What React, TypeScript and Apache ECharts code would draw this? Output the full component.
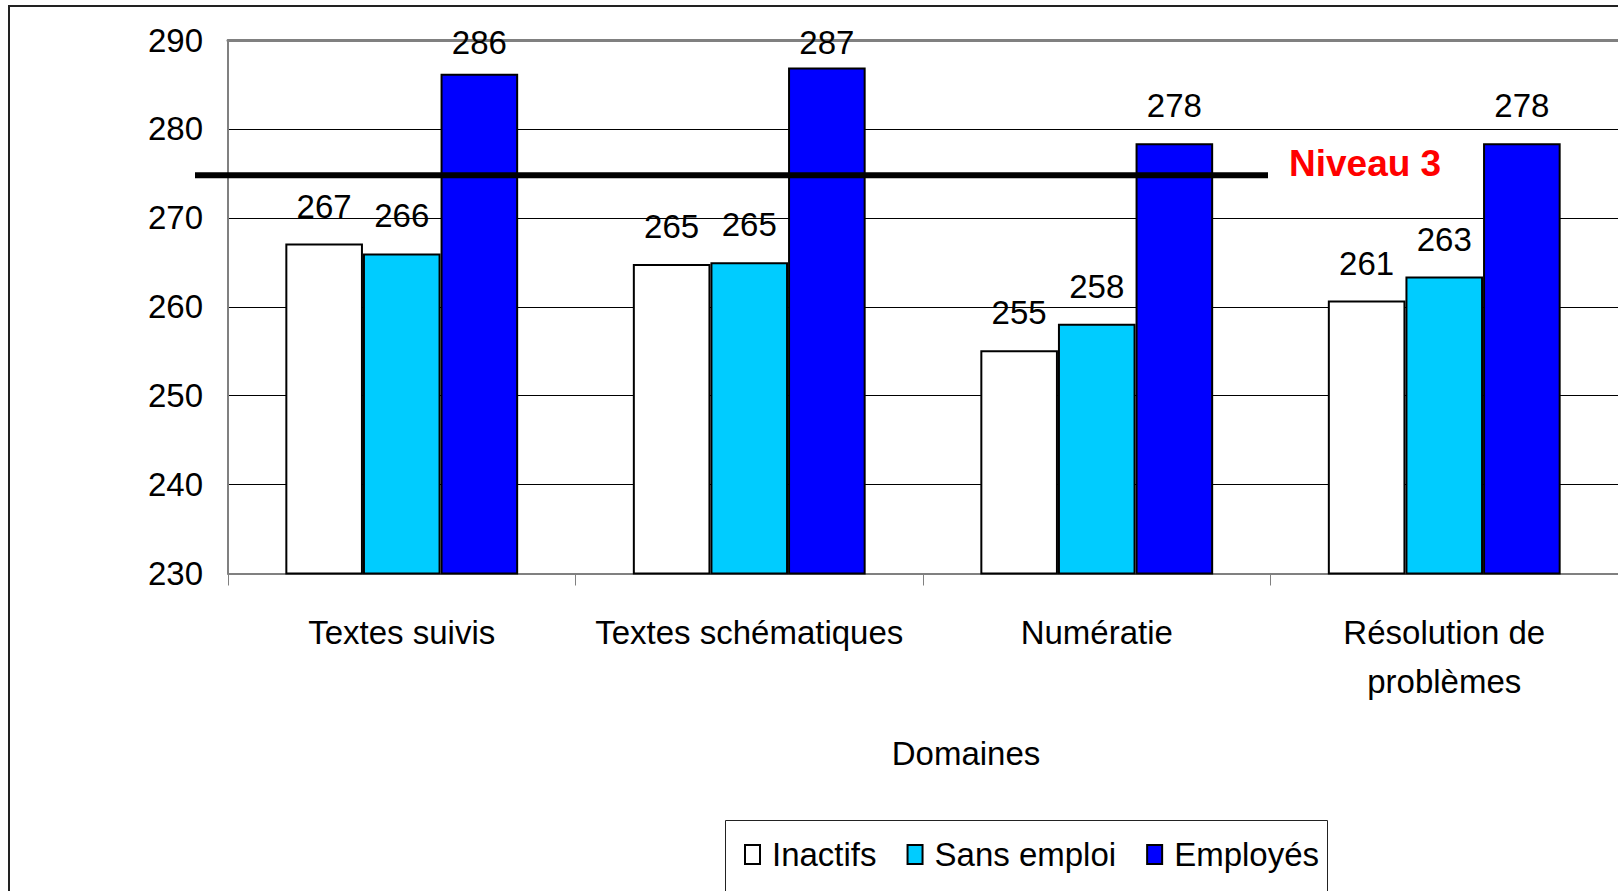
import React, { useEffect, useRef } from "react";
import * as echarts from "echarts";

// ---- Data ----
const categories = ["Textes suivis", "Textes schématiques", "Numératie", "Résolution de\nproblèmes"];
const seriesNames = ["Inactifs", "Sans emploi", "Employés"];
const inactifs = [267.1, 264.8, 255.1, 260.7];
const sansEmploi = [266.0, 265.0, 258.1, 263.4];
const employes = [286.2, 286.9, 278.4, 278.4];
const yMin = 230;
const yMax = 290;
const yInterval = 10;
const NIVEAU_3 = 274.8;
const niveauLabel = "Niveau 3";
const xAxisTitle = "Domaines";

// ---- Styles ----
const colors = ["#FFFFFF", "#00CCFF", "#0000FF"];
const SANS = "'Liberation Sans', Arial, sans-serif";
const FS = 33;
const LABEL_TOP_LIMIT = 26;

export default function App() {
  const ref = useRef<HTMLDivElement>(null);
  useEffect(() => {
    if (!ref.current) return;
    const chart = echarts.init(ref.current, null, { renderer: "svg" });
    const values = [inactifs, sansEmploi, employes];
    const option: any = {
      animation: false,
      backgroundColor: "#FFFFFF",
      grid: { left: 228, top: 40, width: 1391, height: 533.5, containLabel: false },
      legend: {
        left: 744,
        top: 838,
        padding: 0,
        itemWidth: 15,
        itemHeight: 19,
        itemGap: 30,
        icon: "rect",
        textStyle: { fontFamily: SANS, fontSize: FS, color: "#000", padding: [0, 0, 0, 7] },
        data: seriesNames,
      },
      xAxis: [
        {
          type: "category",
          data: categories,
          position: "bottom",
          axisLine: { lineStyle: { color: "#808080", width: 2 } },
          axisTick: { show: true, length: 12, lineStyle: { color: "#808080", width: 1 } },
          axisLabel: {
            fontFamily: SANS,
            fontSize: FS,
            color: "#000",
            margin: 34,
            lineHeight: 49,
            interval: 0,
          },
          splitLine: { show: false },
        },
        {
          type: "category",
          data: categories,
          position: "top",
          axisLine: { lineStyle: { color: "#808080", width: 3 } },
          axisTick: { show: false },
          axisLabel: { show: false },
          splitLine: { show: false },
        },
      ],
      yAxis: {
        type: "value",
        min: yMin,
        max: yMax,
        interval: yInterval,
        axisLine: { show: true, lineStyle: { color: "#808080", width: 2 } },
        axisTick: { show: false },
        axisLabel: { fontFamily: SANS, fontSize: FS, color: "#000", margin: 25 },
        splitLine: { show: true, showMinLine: false, showMaxLine: false, lineStyle: { color: "#000", width: 1 } },
      },
      series: seriesNames.map((name, i) => ({
        name,
        type: "bar",
        xAxisIndex: 0,
        data: values[i],
        barGap: "0%",
        barCategoryGap: "33%",
        itemStyle: { color: colors[i], borderColor: "#000", borderWidth: 2 },
        label: {
          show: true,
          position: "top",
          distance: 21,
          fontFamily: SANS,
          fontSize: FS,
          color: "#000",
          formatter: (p: any) => String(Math.round(p.value)),
        },
        labelLayout: (params: any) => {
          const r = params.labelRect;
          if (r && r.y < LABEL_TOP_LIMIT) {
            return {
              x: r.x + r.width / 2,
              y: LABEL_TOP_LIMIT + r.height,
              align: "center",
              verticalAlign: "bottom",
            };
          }
          return {};
        },
      })),
    };
    chart.setOption(option);

    const yPx = chart.convertToPixel({ yAxisIndex: 0 }, NIVEAU_3) as number;
    chart.setOption({
      graphic: [
        {
          type: "rect",
          shape: { x: 9, y: 6, width: 2000, height: 2000 },
          style: { fill: "none", stroke: "#222", lineWidth: 2 },
          silent: true,
          z: 100,
        },
        {
          type: "rect",
          shape: { x: 725.5, y: 820.5, width: 602, height: 200 },
          style: { fill: "none", stroke: "#222", lineWidth: 1 },
          silent: true,
          z: 100,
        },
        {
          type: "line",
          shape: { x1: 195, y1: yPx, x2: 1268, y2: yPx },
          style: { stroke: "#000", lineWidth: 6 },
          silent: true,
          z: 100,
        },
        {
          type: "text",
          x: 1289,
          y: yPx - 12,
          style: {
            text: niveauLabel,
            fontFamily: SANS,
            fontSize: 37,
            fontWeight: "bold",
            fill: "#FF0000",
            align: "left",
            verticalAlign: "middle",
          },
          silent: true,
          z: 100,
        },
        {
          type: "text",
          x: 966,
          y: 753,
          style: {
            text: xAxisTitle,
            fontFamily: SANS,
            fontSize: FS,
            fill: "#000",
            align: "center",
            verticalAlign: "middle",
          },
          silent: true,
          z: 100,
        },
      ],
    });
    return () => chart.dispose();
  }, []);
  return (
    <div
      ref={ref}
      style={{ position: "fixed", left: 0, top: 0, width: 1618, height: 891, background: "#fff" }}
    />
  );
}
